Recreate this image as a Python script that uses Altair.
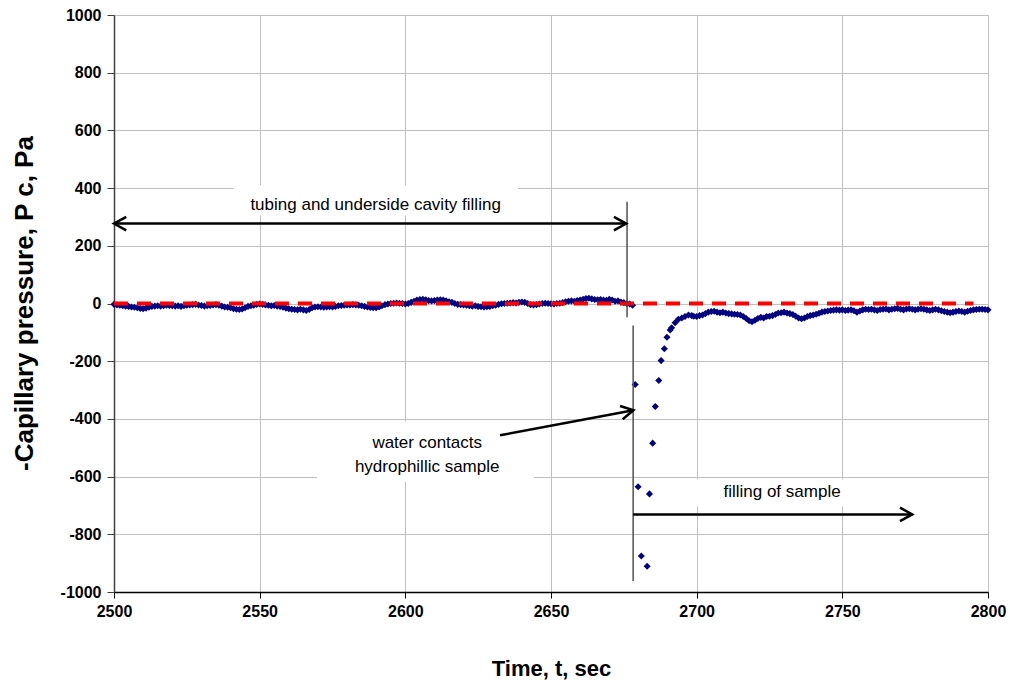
import altair as alt
import pandas as pd

# ---------------- data ----------------
base_start = 2500
base_vals = [
    -3, -5, -6, -8, -9, -10, -12, -13, -15, -17,
    -18, -16, -13, -10, -9, -8, -9, -8, -6, -7,
    -8, -9, -8, -10, -8, -6, -5, -4, -3, -5,
    -7, -9, -8, -7, -5, -4, -6, -9, -12, -13,
    -15, -18, -20, -21, -19, -15, -10, -8, -6, -3,
    -2, -3, -5, -6, -8, -7, -9, -10, -13, -16,
    -18, -20, -21, -22, -20, -22, -24, -21, -15, -12,
    -11, -12, -13, -12, -11, -12, -10, -8, -7, -6,
    -5, -5, -4, -5, -6, -8, -10, -12, -14, -15,
    -15, -12, -8, -4, -2, 0, 1, 2, 1, 0,
    -2, 0, 4, 8, 12, 14, 15, 13, 10, 9,
    10, 12, 13, 12, 9, 6, 4, 0, -3, -4,
    -5, -6, -8, -9, -8, -10, -11, -12, -11, -10,
    -8, -6, -3, -1, 0, 1, 2, 3, 2, 4,
    5, 4, 0, -4, -5, -4, -2, 0, 1, 0,
    -1, -2, 0, 1, 3, 6, 8, 9, 8, 10,
    12, 15, 17, 18, 16, 14, 13, 14, 12, 11,
    15, 12, 8, 9, 5, 3, 0, -2, -6,
]
drop_t = [2678.9, 2679.9, 2681.0, 2683.0, 2683.8, 2684.9, 2685.8, 2687.0, 2687.8,
          2688.9, 2689.8, 2690.9, 2691.4, 2692.6, 2693.7, 2694.9, 2696.0, 2697.2, 2698.3]
drop_v = [-281, -635, -875, -911, -660, -484, -357, -267, -198,
          -157, -117, -92, -84, -67, -55, -50, -45, -40, -42]
rec_start = 2699
rec_vals = [
    -44,
    -45, -42, -40, -35, -30, -28, -27, -30, -32, -30,
    -33, -35, -36, -37, -38, -40, -45, -52, -60, -63,
    -58, -52, -48, -50, -45, -44, -42, -38, -33, -32,
    -30, -33, -35, -38, -44, -50, -53, -50, -45, -42,
    -40, -37, -34, -30, -28, -26, -24, -23, -22, -23,
    -22, -24, -23, -22, -25, -30, -26, -22, -20, -21,
    -20, -22, -24, -21, -20, -19, -22, -20, -18, -17,
    -20, -22, -19, -18, -20, -22, -20, -18, -20, -22,
    -24, -22, -20, -22, -25, -28, -30, -32, -30, -28,
    -26, -28, -30, -27, -24, -22, -21, -20, -20, -21,
    -22,
]

x_ticks = list(range(2500, 2801, 50))
y_ticks = list(range(-1000, 1001, 200))

# reference zero line
zero_line = {"x": [2500], "x2": [2795], "y": [0]}

# annotation segments
seg_x = [2500, 2678.2, 2632.5, 2676.1, 2678.2]
seg_x2 = [2675.8, 2774, 2678.3, 2676.1, 2678.2]
seg_y = [277, -731, -457, 353, -76]
seg_y2 = [277, -731, -370, -48, -962]
seg_kind = ["arrow", "arrow", "arrow", "marker", "marker"]

# arrow heads: tip positions and direction angles
head_x = [2500, 2675.8, 2774, 2678.3]
head_y = [277, 277, -731, -370]
head_angle = [180, 0, 0, 349]

# text boxes (white background) and labels
box_x = [2541, 2569.7, 2698]
box_x2 = [2638.7, 2644.2, 2762]
box_y = [305, -410, -610]
box_y2 = [410, -618, -704]

label_text = ["tubing and underside cavity filling", "water contacts",
              "hydrophillic sample", "filling of sample"]
label_x = [2589.8, 2607.5, 2607.5, 2729.3]
label_y = [343, -482, -565, -655]

# ---------------- frames ----------------
t_all = [base_start + i for i in range(len(base_vals))] + drop_t + \
        [rec_start + i for i in range(len(rec_vals))]
v_all = base_vals + drop_v + rec_vals
df = pd.DataFrame({"t": t_all, "p": v_all})

df_zero = pd.DataFrame(zero_line)
df_seg = pd.DataFrame({"x": seg_x, "x2": seg_x2, "y": seg_y, "y2": seg_y2, "kind": seg_kind})
df_head = pd.DataFrame({"x": head_x, "y": head_y, "angle": head_angle})
df_box = pd.DataFrame({"x": box_x, "x2": box_x2, "y": box_y, "y2": box_y2})
df_lab = pd.DataFrame({"x": label_x, "y": label_y, "text": label_text})

FONT = "Liberation Sans"

xscale = alt.Scale(domain=[2500, 2800], nice=False, zero=False)
yscale = alt.Scale(domain=[-1000, 1000], nice=False, zero=False)

x_enc = alt.X(
    "t:Q", scale=xscale,
    axis=alt.Axis(
        values=x_ticks, title="Time, t, sec", labelExpr="'' + datum.value",
        grid=True, gridColor="#c0c0c0", gridWidth=1,
        domainColor="#000000", domainWidth=1.5, tickColor="#000000", tickSize=6,
        labelFont=FONT, labelFontSize=16, labelFontWeight="bold", labelColor="#000",
        labelPadding=5, labelFlush=False, labelOverlap=False,
        titleFont=FONT, titleFontSize=22, titleFontWeight="bold", titleColor="#000",
        titleX=437, titleY=76, titleBaseline="middle", titleAlign="center",
    ),
)
y_enc = alt.Y(
    "p:Q", scale=yscale,
    axis=alt.Axis(
        values=y_ticks, title="-Capillary pressure, P c, Pa", labelExpr="'' + datum.value",
        grid=True, gridColor="#c0c0c0", gridWidth=1,
        domainColor="#404040", domainWidth=1.5, tickColor="#404040", tickSize=7,
        labelFont=FONT, labelFontSize=16, labelFontWeight="bold", labelColor="#000",
        labelPadding=6, labelFlush=False, labelOverlap=False,
        titleFont=FONT, titleFontSize=26, titleFontWeight="bold", titleColor="#000",
        titleX=-90, titleY=288, titleAngle=270, titleBaseline="middle", titleAlign="center",
    ),
)

boxes = alt.Chart(df_box).mark_rect(color="white").encode(
    x=alt.X("x:Q", scale=xscale), x2="x2:Q",
    y=alt.Y("y:Q", scale=yscale), y2="y2:Q",
)

points = alt.Chart(df).mark_point(
    shape="diamond", filled=True, color="#000080", size=50, opacity=1
).encode(x=x_enc, y=y_enc)

zero = alt.Chart(df_zero).mark_rule(
    color="#ff0000", strokeWidth=4, strokeDash=[14, 9]
).encode(x=alt.X("x:Q", scale=xscale), x2="x2:Q", y=alt.Y("y:Q", scale=yscale))

seg_arrow = alt.Chart(df_seg).transform_filter("datum.kind == 'arrow'").mark_rule(
    color="#000000", strokeWidth=2.5
).encode(x=alt.X("x:Q", scale=xscale), x2="x2:Q", y=alt.Y("y:Q", scale=yscale), y2="y2:Q")

seg_marker = alt.Chart(df_seg).transform_filter("datum.kind == 'marker'").mark_rule(
    color="#505050", strokeWidth=1.5
).encode(x=alt.X("x:Q", scale=xscale), x2="x2:Q", y=alt.Y("y:Q", scale=yscale), y2="y2:Q")

heads = alt.Chart(df_head).mark_point(
    shape="M -1 -0.55 L 0 0 L -1 0.55", filled=False, color="#000000",
    strokeWidth=2.5, size=600, opacity=1, strokeJoin="miter",
).encode(
    x=alt.X("x:Q", scale=xscale), y=alt.Y("y:Q", scale=yscale),
    angle=alt.Angle("angle:Q", scale=None),
)

labels = alt.Chart(df_lab).mark_text(
    font=FONT, fontSize=17, color="#000000", align="center", baseline="middle"
).encode(x=alt.X("x:Q", scale=xscale), y=alt.Y("y:Q", scale=yscale), text="text:N")

chart = alt.layer(
    boxes, points, zero, seg_marker, seg_arrow, heads, labels
).properties(
    width=874, height=577,
    autosize=alt.AutoSizeParams(type="none"),
    padding={"left": 114, "top": 15, "right": 22, "bottom": 94},
).configure_view(stroke=None).configure(background="white")

chart.save("out.html", embed_options={"renderer": "svg", "actions": False})
